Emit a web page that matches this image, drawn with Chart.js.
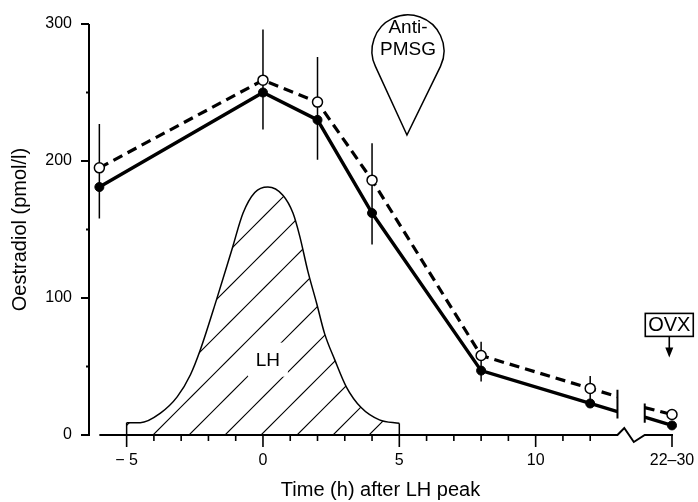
<!DOCTYPE html>
<html>
<head>
<meta charset="utf-8">
<script src="https://cdn.jsdelivr.net/npm/chart.js@4"></script>
<style>
  html, body { margin: 0; padding: 0; background: #fff; }
  #wrap { width: 698px; height: 502px; }
</style>
</head>
<body>
<div id="wrap"><canvas id="grafico"></canvas></div>
<script>
// hours after LH peak; the last sample (22-30 h) sits after the axis break
const hours = [-6, 0, 2, 4, 8, 12];
const lateHour = 15;
const filledValues = [181, 250, 230, 162, 47, 23];
const openValues = [195, 259, 243, 186, 58, 34];
const filledLate = 7;
const openLate = 15;
const errLow = [158, 223, 201, 139, 39, 20];
const errHigh = [227, 296, 276, 213, 68, 43];

// where the lines are cut by the axis break
const breakHours = [13, 14];
const filledAtBreak = [17, 13];
const openAtBreak = [28, 20];
const breakCapLow = [12, 9];
const breakCapHigh = [33, 23];

// LH surge outline (arbitrary units drawn on the same axis)
const lhHours = [-5, -4.5, -3.76, -3.14, -2.66, -2.3, -1.7, -1.13, -0.73, -0.3, 0.18, 0.73, 1.1, 1.35, 1.64, 1.97, 2.26, 2.63, 3.06, 3.6, 4.27, 5];
const lhLevel = [9, 9, 16, 28, 44, 62, 99, 136, 162, 177, 181, 175, 162, 145, 120, 96, 74, 55, 35, 20, 11, 8.5];

const xTickValues = [-5, 0, 5, 10, 15];
const xTickLabels = ["\u2212 5", "0", "5", "10", "22\u201330"];
const yTickValues = [0, 100, 200, 300];
const yMinorTicks = [50, 150, 250];

const FONT = "'Liberation Sans', Arial, Helvetica, sans-serif";

function seriesData(values, atBreak, late) {
    const pts = hours.map((h, i) => ({ x: h, y: values[i] }));
    pts.push({ x: breakHours[0], y: atBreak[0] });
    pts.push({ x: (breakHours[0] + breakHours[1]) / 2, y: null });
    pts.push({ x: breakHours[1], y: atBreak[1] });
    pts.push({ x: lateHour, y: late });
    return pts;
}

function hatchPattern() {
    const s = 36;
    const c = document.createElement("canvas");
    c.width = s;
    c.height = s;
    const g = c.getContext("2d");
    g.strokeStyle = "#000";
    g.lineWidth = 1.2;
    g.beginPath();
    g.moveTo(-2, 14);
    g.lineTo(14, -2);
    g.moveTo(10, s + 2);
    g.lineTo(s + 2, 10);
    g.stroke();
    return g.createPattern(c, "repeat");
}

const noMarkAtBreak = (ctx) =>
    ctx.raw && breakHours.includes(ctx.raw.x) ? 0 : null;

const extras = {
    id: "extras",
    beforeDatasetsDraw(chart) {
        const { ctx, scales: { x, y } } = chart;
        ctx.save();
        ctx.strokeStyle = "#000";
        ctx.lineCap = "butt";

        // y axis
        ctx.lineWidth = 2;
        ctx.beginPath();
        ctx.moveTo(x.left, y.getPixelForValue(0) + 1);
        ctx.lineTo(x.left, y.getPixelForValue(300));
        yTickValues.forEach((v) => {
            ctx.moveTo(x.left - 8, y.getPixelForValue(v));
            ctx.lineTo(x.left, y.getPixelForValue(v));
        });
        yMinorTicks.forEach((v) => {
            ctx.moveTo(x.left - 3, y.getPixelForValue(v));
            ctx.lineTo(x.left, y.getPixelForValue(v));
        });
        ctx.stroke();

        // x axis with break
        const y0 = y.getPixelForValue(0);
        const b0 = x.getPixelForValue(breakHours[0]);
        const b1 = x.getPixelForValue(breakHours[1]);
        ctx.beginPath();
        ctx.moveTo(x.getPixelForValue(-6), y0);
        ctx.lineTo(b0, y0);
        ctx.lineTo(b0 + (b1 - b0) * 0.25, y0 - 7);
        ctx.lineTo(b0 + (b1 - b0) * 0.6, y0 + 7);
        ctx.lineTo(b1, y0);
        ctx.lineTo(x.getPixelForValue(lateHour) + 1, y0);
        ctx.stroke();

        ctx.lineWidth = 1.6;
        ctx.beginPath();
        for (let h = -5; h <= 12; h++) {
            const px = x.getPixelForValue(h);
            ctx.moveTo(px, y0);
            ctx.lineTo(px, y0 + (xTickValues.includes(h) ? 12 : 6));
        }
        const pl = x.getPixelForValue(lateHour);
        ctx.moveTo(pl, y0);
        ctx.lineTo(pl, y0 + 12);
        ctx.stroke();

        // error bars
        ctx.lineWidth = 1.5;
        ctx.beginPath();
        hours.forEach((h, i) => {
            const px = x.getPixelForValue(h);
            ctx.moveTo(px, y.getPixelForValue(errLow[i]));
            ctx.lineTo(px, y.getPixelForValue(errHigh[i]));
        });
        ctx.stroke();

        // caps at the break
        ctx.lineWidth = 2;
        ctx.beginPath();
        breakHours.forEach((h, i) => {
            const px = x.getPixelForValue(h);
            ctx.moveTo(px, y.getPixelForValue(breakCapLow[i]));
            ctx.lineTo(px, y.getPixelForValue(breakCapHigh[i]));
        });
        ctx.stroke();
        ctx.restore();
    },
    afterDatasetsDraw(chart) {
        const { ctx, scales: { x, y } } = chart;
        ctx.save();
        ctx.fillStyle = "#000";
        ctx.strokeStyle = "#000";
        ctx.textAlign = "center";
        ctx.textBaseline = "middle";

        // LH label
        const lx = x.getPixelForValue(0.18);
        const ly = y.getPixelForValue(55);
        ctx.fillStyle = "#fff";
        ctx.fillRect(lx - 20, ly - 17, 40, 34);
        ctx.fillStyle = "#000";
        ctx.font = "19px " + FONT;
        ctx.fillText("LH", lx, ly + 1);

        // Anti-PMSG balloon
        const tx = x.getPixelForValue(5.28);
        const ty = y.getPixelForValue(219);
        const r = 36;
        const cx = tx + 1;
        const cy = ty - 84;
        const a = Math.acos(r / 84);
        ctx.lineWidth = 1.5;
        ctx.fillStyle = "#fff";
        ctx.beginPath();
        ctx.moveTo(tx, ty);
        ctx.arc(cx, cy, r, Math.PI / 2 + a, Math.PI / 2 - a + 2 * Math.PI, false);
        ctx.closePath();
        ctx.fill();
        ctx.stroke();
        ctx.fillStyle = "#000";
        ctx.font = "19px " + FONT;
        ctx.fillText("Anti-", cx, cy - 23);
        ctx.fillText("PMSG", cx, cy - 1);

        // OVX box and arrow
        const ox = x.getPixelForValue(14.9);
        const oy = y.getPixelForValue(80);
        ctx.lineWidth = 1.6;
        ctx.fillStyle = "#fff";
        ctx.fillRect(ox - 24, oy - 12, 48, 23);
        ctx.strokeRect(ox - 24, oy - 12, 48, 23);
        ctx.fillStyle = "#000";
        ctx.font = "20px " + FONT;
        ctx.fillText("OVX", ox, oy + 0.5);
        ctx.beginPath();
        ctx.moveTo(ox, oy + 11);
        ctx.lineTo(ox, oy + 24);
        ctx.stroke();
        ctx.beginPath();
        ctx.moveTo(ox - 4, oy + 22);
        ctx.lineTo(ox + 4, oy + 22);
        ctx.lineTo(ox, oy + 32);
        ctx.closePath();
        ctx.fill();
        ctx.restore();
    },
};

const dataGrafico = {
    datasets: [
        {
            label: "Filled",
            data: seriesData(filledValues, filledAtBreak, filledLate),
            borderColor: "#000",
            borderWidth: 3.4,
            pointBackgroundColor: "#000",
            pointBorderColor: "#000",
            pointBorderWidth: 1,
            pointRadius: (ctx) => noMarkAtBreak(ctx) ?? 4.5,
            spanGaps: false,
            clip: false,
            order: 1,
        },
        {
            label: "Open",
            data: seriesData(openValues, openAtBreak, openLate),
            borderColor: "#000",
            borderWidth: 3.2,
            borderDash: [10, 6],
            pointBackgroundColor: "#fff",
            pointBorderColor: "#000",
            pointBorderWidth: 1.5,
            pointRadius: (ctx) => noMarkAtBreak(ctx) ?? 5,
            spanGaps: false,
            clip: false,
            order: 2,
        },
        {
            label: "LH",
            data: lhHours.map((h, i) => ({ x: h, y: lhLevel[i] })),
            borderColor: "#000",
            borderWidth: 1.5,
            backgroundColor: hatchPattern(),
            fill: "origin",
            cubicInterpolationMode: "monotone",
            pointRadius: 0,
            order: 4,
        },
        {
            label: "LH start",
            data: [{ x: lhHours[0], y: 0 }, { x: lhHours[0], y: lhLevel[0] }],
            borderColor: "#000",
            borderWidth: 1.5,
            pointRadius: 0,
            order: 3,
        },
        {
            label: "LH end",
            data: [{ x: lhHours[lhHours.length - 1], y: 0 }, { x: lhHours[lhHours.length - 1], y: lhLevel[lhLevel.length - 1] }],
            borderColor: "#000",
            borderWidth: 1.5,
            pointRadius: 0,
            order: 3,
        },
    ],
};

const configGrafico = {
    type: "line",
    data: dataGrafico,
    plugins: [extras],
    options: {
        responsive: true,
        maintainAspectRatio: false,
        animation: false,
        events: [],
        layout: { padding: { top: 24, right: 26, left: 0, bottom: 0 } },
        plugins: {
            legend: { display: false },
            tooltip: { enabled: false },
        },
        scales: {
            x: {
                type: "linear",
                min: -6.38,
                max: 15,
                grid: { display: false, drawTicks: false },
                border: { display: false },
                afterFit: (s) => {
                    s.height = 67;
                    s.paddingLeft = 0;
                    s.paddingRight = 0;
                },
                afterBuildTicks: (s) => { s.ticks = xTickValues.map((v) => ({ value: v })); },
                ticks: {
                    autoSkip: false,
                    maxRotation: 0,
                    padding: 16,
                    color: "#000",
                    font: { family: FONT, size: 16 },
                    callback: (v, i) => xTickLabels[i],
                },
                title: {
                    display: true,
                    text: "Time (h) after LH peak",
                    color: "#000",
                    font: { family: FONT, size: 20 },
                    padding: { top: 0, bottom: 0 },
                },
            },
            y: {
                min: 0,
                max: 300,
                grid: { display: false, drawTicks: false },
                border: { display: false },
                afterFit: (s) => {
                    s.width = 89;
                    s.paddingTop = 0;
                    s.paddingBottom = 0;
                },
                afterBuildTicks: (s) => { s.ticks = yTickValues.map((v) => ({ value: v })); },
                ticks: {
                    padding: 17,
                    color: "#000",
                    font: { family: FONT, size: 16 },
                },
                title: {
                    display: true,
                    text: "Oestradiol (pmol/l)",
                    color: "#000",
                    font: { family: FONT, size: 20 },
                    padding: { top: 8, bottom: 0 },
                },
            },
        },
    },
};

const chartGrafico = new Chart(document.getElementById("grafico"), configGrafico);
</script>
</body>
</html>
